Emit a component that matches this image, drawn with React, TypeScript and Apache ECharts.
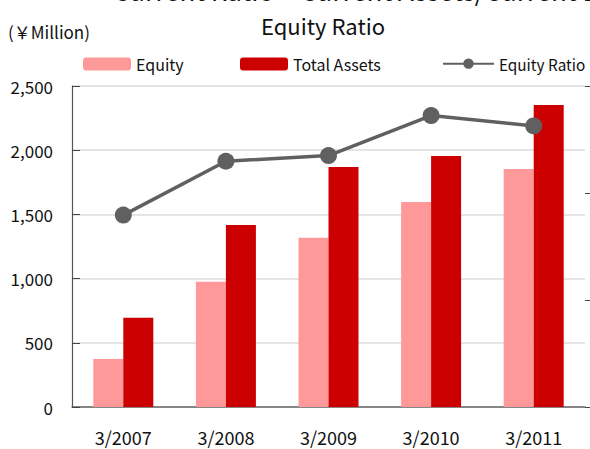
import React, { useEffect, useRef } from "react";
import * as echarts from "echarts";

const categories = ["3/2007", "3/2008", "3/2009", "3/2010", "3/2011"];
const equity = [374, 976, 1318, 1597, 1854];
const totalAssets = [695, 1417, 1869, 1955, 2352];
const equityRatio = [53.8, 68.9, 70.5, 81.7, 78.8];
const titleLine1 = "Current Ratio＝Current Assets/Current Liabilities";
const titleLine2 = "Equity Ratio";
const unitLabel = "(￥Million)";

const FONT = "'Noto Sans CJK JP', 'Noto Sans', sans-serif";

export default function App() {
  const ref = useRef<HTMLDivElement>(null);
  useEffect(() => {
    if (!ref.current) return;
    const chart = echarts.init(ref.current, null, { renderer: "svg" });
    chart.setOption({
      animation: false,
      backgroundColor: "#ffffff",
      textStyle: { fontFamily: FONT },
      graphic: [
        {
          type: "text",
          left: 113,
          top: -24,
          style: { text: titleLine1, font: `26px ${FONT}`, fill: "#111" },
        },
        {
          type: "text",
          left: 261,
          top: 14,
          style: { text: titleLine2, font: `22px ${FONT}`, fill: "#111" },
        },
        {
          type: "text",
          left: 8,
          top: 23,
          style: { text: unitLabel, font: `17px ${FONT}`, fill: "#111" },
        },
      ],
      legend: [
        {
          left: 78,
          top: 51,
          data: ["Equity"],
          itemWidth: 48,
          itemHeight: 13,
          textStyle: { fontSize: 16, color: "#111", fontFamily: FONT },
        },
        {
          left: 235,
          top: 51,
          data: ["Total Assets"],
          itemWidth: 48,
          itemHeight: 13,
          textStyle: { fontSize: 16, color: "#111", fontFamily: FONT },
        },
        {
          left: 437,
          top: 51,
          data: ["Equity Ratio"],
          itemWidth: 51,
          itemHeight: 13,
          textStyle: { fontSize: 15.3, color: "#111", fontFamily: FONT },
        },
      ],
      grid: { left: 72, right: 5, top: 86, bottom: 42, containLabel: false },
      xAxis: {
        type: "category",
        data: categories,
        axisLine: { lineStyle: { color: "#666", width: 1.5 } },
        axisTick: { inside: true, length: 7, lineStyle: { color: "#555" } },
        axisLabel: { fontSize: 18, color: "#111", margin: 21, fontFamily: FONT },
      },
      yAxis: [
        {
          type: "value",
          min: 0,
          max: 2500,
          interval: 500,
          axisLine: { show: true, lineStyle: { color: "#555", width: 1.2 } },
          axisTick: { show: true, inside: true, length: 8, lineStyle: { color: "#444" } },
          axisLabel: {
            fontSize: 17,
            color: "#111",
            margin: 19,
            fontFamily: FONT,
            formatter: (v: number) => v.toLocaleString("en-US"),
          },
          splitLine: { show: true, lineStyle: { color: "#dcdcdc", width: 1.5 } },
        },
        {
          type: "value",
          min: 0,
          max: 90,
          interval: 30,
          position: "right",
          axisLine: { show: false },
          axisTick: { show: true, inside: false, length: 5, lineStyle: { color: "#444" } },
          axisLabel: { show: false },
          splitLine: { show: false },
        },
      ],
      series: [
        {
          name: "Equity",
          type: "bar",
          data: equity,
          barWidth: 30,
          barGap: "0%",
          itemStyle: { color: "#ff9999" },
        },
        {
          name: "Total Assets",
          type: "bar",
          data: totalAssets,
          barWidth: 30,
          barGap: "0%",
          itemStyle: { color: "#cc0000" },
        },
        {
          name: "Equity Ratio",
          type: "line",
          yAxisIndex: 1,
          data: equityRatio,
          symbol: "circle",
          symbolSize: 17,
          lineStyle: { color: "#606060", width: 3.5 },
          itemStyle: { color: "#606060" },
          z: 5,
        },
      ],
    });
    return () => chart.dispose();
  }, []);
  return <div ref={ref} style={{ width: 590, height: 449, position: "absolute", left: 0, top: 0 }} />;
}
